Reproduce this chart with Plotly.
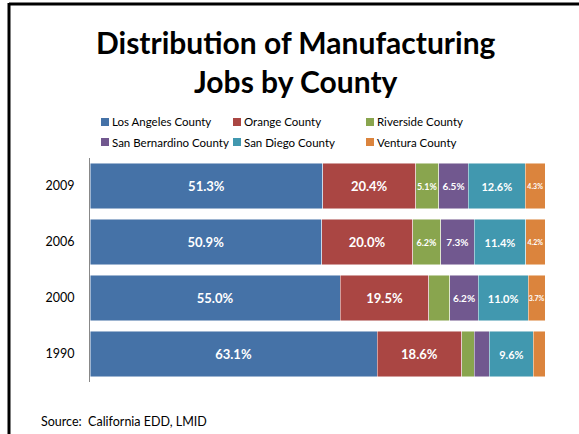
import plotly.graph_objects as go

# Manufacturing job share by county (percent of region total)
years = ["1990", "2000", "2006", "2009"]
counties = ["Los Angeles County", "Orange County", "Riverside County",
            "San Bernardino County", "San Diego County", "Ventura County"]
los_angeles = [63.1, 55.0, 50.9, 51.3]
orange = [18.6, 19.5, 20.0, 20.4]
riverside = [2.7, 4.6, 6.2, 5.1]
san_bernardino = [3.4, 6.2, 7.3, 6.5]
san_diego = [9.6, 11.0, 11.4, 12.6]
ventura = [2.6, 3.7, 4.2, 4.3]

# which segments carry a value label
show_label = {
    "Los Angeles County": [True, True, True, True],
    "Orange County": [True, True, True, True],
    "Riverside County": [False, False, True, True],
    "San Bernardino County": [False, True, True, True],
    "San Diego County": [True, True, True, True],
    "Ventura County": [False, True, True, True],
}
label_size = {
    "Los Angeles County": 13,
    "Orange County": 13,
    "Riverside County": 9,
    "San Bernardino County": 10,
    "San Diego County": 11,
    "Ventura County": 7,
}
colors = ["#4572A7", "#AA4643", "#89A54E", "#71588F", "#4198AF", "#DB843D"]
series = [los_angeles, orange, riverside, san_bernardino, san_diego, ventura]

FONT = "Lato"
W, H = 579, 434
L, R, T, B = 90, 34, 158, 52
PW, PH = W - L - R, H - T - B


def px(x):
    return (x - L) / PW


def py(y):
    return (H - B - y) / PH


fig = go.Figure()
for name, vals, col in zip(counties, series, colors):
    txt = [f"{v:.1f}%" if s else "" for v, s in zip(vals, show_label[name])]
    fig.add_trace(go.Bar(
        y=years, x=vals, name=name, orientation="h",
        marker=dict(color=col, line=dict(color="rgba(255,255,255,0.6)", width=0.8)),
        text=txt, textposition="inside", insidetextanchor="middle",
        textangle=0, constraintext="none",
        textfont=dict(family=FONT, size=label_size[name], color="white", weight="bold"),
        hoverinfo="name+x",
    ))

shapes = []
annotations = []

# legend: 3 columns x 2 rows
leg_cols = [101, 233, 366]
leg_rows = [122, 142]
for i, (name, col) in enumerate(zip(counties, colors)):
    cx = leg_cols[i % 3]
    cy = leg_rows[i // 3]
    shapes.append(dict(type="rect", xref="paper", yref="paper",
                       x0=px(cx), x1=px(cx + 8), y0=py(cy + 4), y1=py(cy - 4),
                       fillcolor=col, line=dict(width=0)))
    annotations.append(dict(text=name, xref="paper", yref="paper",
                            x=px(cx + 9), y=py(cy), xanchor="left", yanchor="middle",
                            showarrow=False, font=dict(family=FONT, size=11.5, color="#000")))

# frame lines on top and left
shapes.append(dict(type="line", xref="paper", yref="paper",
                   x0=px(9), x1=px(W + 2), y0=py(4), y1=py(4),
                   line=dict(color="black", width=3)))
shapes.append(dict(type="line", xref="paper", yref="paper",
                   x0=px(9), x1=px(9), y0=py(3), y1=py(H + 2),
                   line=dict(color="black", width=3)))

# title
annotations.append(dict(text="<b>Distribution of Manufacturing<br>Jobs by County</b>",
                        xref="paper", yref="paper", x=px(296), y=py(22),
                        xanchor="center", yanchor="top", showarrow=False,
                        font=dict(family=FONT, size=30, color="#000")))

annotations.append(dict(text="Source:  California EDD, LMID", xref="paper", yref="paper",
                        x=px(39), y=py(421), xanchor="left", yanchor="middle",
                        showarrow=False, font=dict(family=FONT, size=12.5, color="#000")))

fig.update_layout(
    width=W, height=H,
    margin=dict(l=L, r=R, t=T, b=B, pad=0),
    barmode="stack", barnorm="percent", bargap=0.18,
    showlegend=False,
    paper_bgcolor="white", plot_bgcolor="white",
    xaxis=dict(range=[0, 100], visible=False, fixedrange=True),
    yaxis=dict(showline=True, linecolor="#888", linewidth=1, ticks="",
               tickfont=dict(family=FONT, size=12.5, color="#000"),
               ticklabelstandoff=12, showgrid=False, fixedrange=True),
    shapes=shapes, annotations=annotations,
)

fig.write_html("out.html")
